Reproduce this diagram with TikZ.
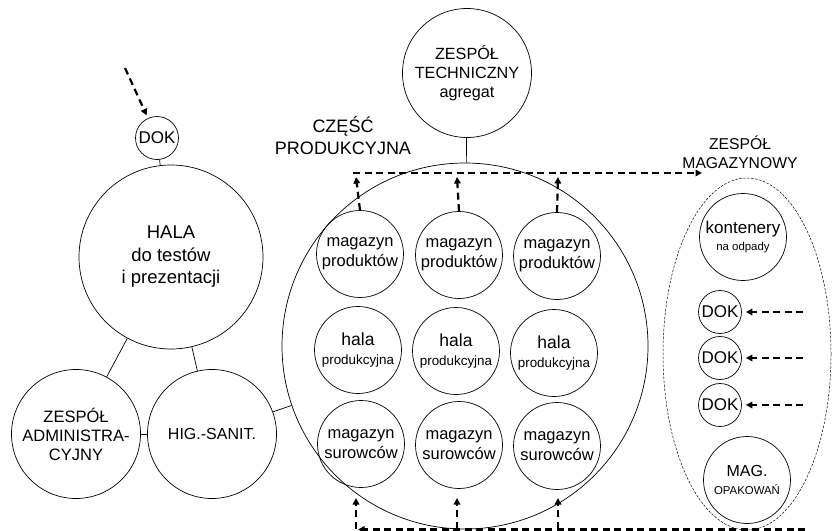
\documentclass[tikz,border=0pt]{standalone}
\usepackage{fontspec}
\setmainfont{Liberation Sans}
\usetikzlibrary{arrows.meta,shapes.geometric}

\newcommand{\fs}[2]{\fontsize{#1}{#2}\selectfont}

\begin{document}
\begin{tikzpicture}[x=1pt,y=-1pt]
   \useasboundingbox (0,0) rectangle (832,530);
   \tikzstyle{every node}=[circle,draw,inner sep=0pt,align=center,line width=0.7pt]
   \tikzstyle{tiny}=[minimum size=43pt,font=\fs{17}{20}]
   \tikzstyle{room}=[minimum size=87pt,font=\fs{16.5}{20}]
   \tikzstyle{big}=[minimum size=129pt,font=\fs{16.5}{19}]
   \tikzstyle{caption}=[draw=none,rectangle]
   \tikzstyle{flow}=[line width=2.2pt,dash pattern=on 7pt off 4.5pt,-{Triangle[length=6.5pt,width=6.5pt]}]
   \tikzstyle{link}=[line width=0.7pt]

% lewa strona
\node[tiny] (dokH) at (157,138) {DOK};
\node[minimum size=184pt,font=\fs{18.5}{22.5}] (hala) at (171,257) {HALA\\do testów\\i prezentacji};
\node[big] (admin) at (76,434) {ZESPÓŁ\\ADMINISTRA-\\CYJNY};
\node[big,font=\fs{16}{19}] (hig) at (212,434) {HIG.-SANIT.};

% czesc produkcyjna
\node[minimum size=366pt] (prod) at (465,346) {};
\node[big,font=\fs{16.2}{19}] (tech) at (467,73) {ZESPÓŁ\\TECHNICZNY\\agregat};
\node[caption,font=\fs{18}{22}] (czesc) at (343,136) {CZĘŚĆ\\PRODUKCYJNA};

\node[room] (mp1) at (360,254) {magazyn\\produktów};
\node[room] (mp2) at (459,255) {magazyn\\produktów};
\node[room] (mp3) at (557,256) {magazyn\\produktów};
\node[room] (hp1) at (358,350) {{\fs{17.5}{20}hala}\\[-1pt]{\fs{13.4}{16}produkcyjna}};
\node[room] (hp2) at (456,351) {{\fs{17.5}{20}hala}\\[-1pt]{\fs{13.4}{16}produkcyjna}};
\node[room] (hp3) at (554,353) {{\fs{17.5}{20}hala}\\[-1pt]{\fs{13.4}{16}produkcyjna}};
\node[room] (ms1) at (361,444) {magazyn\\surowców};
\node[room] (ms2) at (459,445) {magazyn\\surowców};
\node[room] (ms3) at (557,446) {magazyn\\surowców};

% zespol magazynowy
\node[caption,font=\fs{15.7}{19}] (magcap) at (740,152) {ZESPÓŁ\\MAGAZYNOWY};
\node[minimum width=168pt,minimum height=352pt,ellipse,dash pattern=on 2.5pt off 1.5pt,line width=0.5pt] (strefa) at (747,354) {};
\node[room] (kont) at (743,237) {{\fs{17}{19}kontenery}\\[-3pt]{\fs{11.4}{14}na odpady}};
\node[tiny] (dok1) at (720,312) {DOK};
\node[tiny] (dok2) at (720,358) {DOK};
\node[tiny] (dok3) at (720,405) {DOK};
\node[room] (opak) at (747,480) {{\fs{16}{18}MAG.}\\[-2pt]{\fs{11.4}{14}OPAKOWAŃ}};

% wolne konce strzalek
\coordinate (wjazd) at (125,68);
\coordinate (gl) at (353,173);
\coordinate (gp) at (702,173);
\foreach \k/\x in {1/356,2/457,3/558}{
  \coordinate (g\k) at (\x,177);
  \coordinate (d\k) at (\x,540);
  \coordinate (dt\k) at (\x,498);
}
\coordinate (dl) at (358,529.5);
\coordinate (dp) at (805,529.5);
\foreach \k/\y in {1/312,2/358,3/405}
  \coordinate (r\k) at (803,\y);

% polaczenia
\path[link]
(dokH) edge (hala)
(hala) edge (admin)
       edge (hig)
(admin) edge (hig)
(hig.20) edge (prod)
(tech) edge (prod);

% przeplyw
\draw[flow,shorten >=3pt] (wjazd) -- (dokH);
\draw[flow] (gl) -- (gp);
\draw[flow] (mp1.north) -- (g1);
\draw[flow] (mp2.north) -- (g2);
\draw[flow] (mp3.north) -- (g3);
\foreach \k in {1,2,3}
  \draw[flow] (d\k) -- (dt\k);
\draw[flow] (dp) -- (dl);
\draw[flow,shorten >=4pt] (r1) -- (dok1);
\draw[flow,shorten >=4pt] (r2) -- (dok2);
\draw[flow,shorten >=4pt] (r3) -- (dok3);

\end{tikzpicture}
\end{document}
